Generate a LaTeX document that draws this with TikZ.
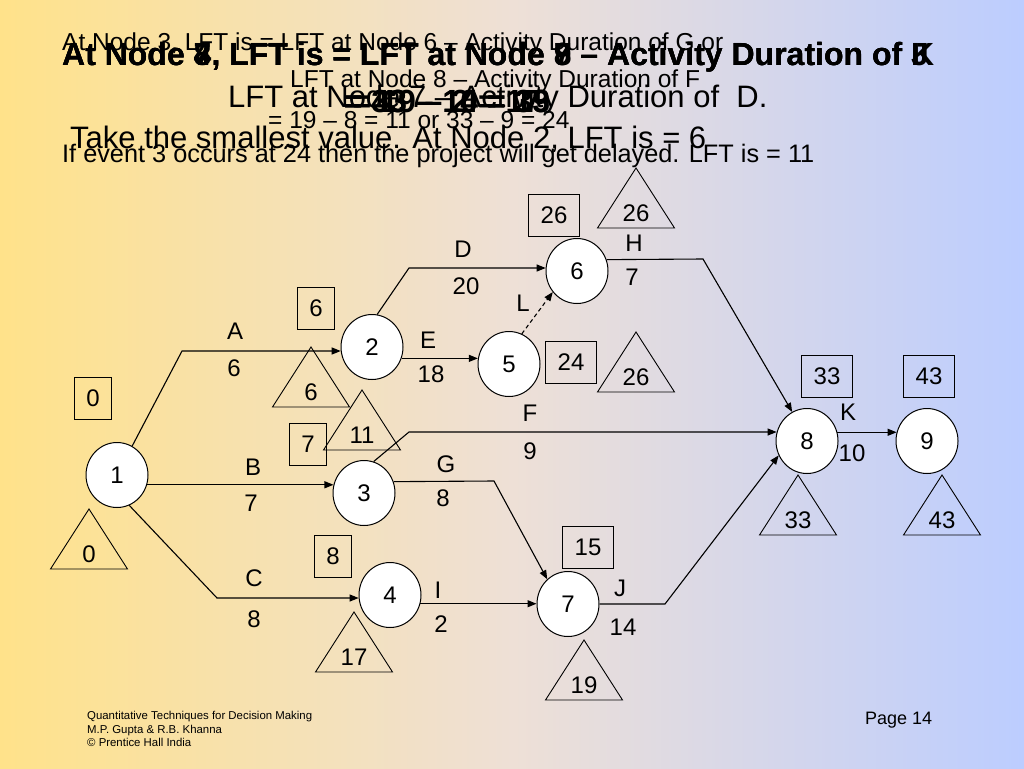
\documentclass[tikz,border=0pt]{standalone}
\usepackage{fontspec}
\setmainfont{Liberation Sans}
\usetikzlibrary{arrows.meta,shapes.geometric}
\definecolor{bgL}{RGB}{255,226,138}
\definecolor{bgM}{RGB}{238,224,214}
\definecolor{bgR}{RGB}{188,205,255}
\newcommand{\fsz}[1]{\fontsize{#1pt}{#1pt}\selectfont}
\begin{document}
\begin{tikzpicture}[x=1pt,y=-1pt,
  ev/.style={draw, line width=1pt, fill=white, ellipse, minimum width=62pt, minimum height=65pt, inner sep=0pt, font=\fsz{24}},
  estbox/.style={draw, line width=0.9pt, minimum height=42pt, minimum width=36pt, inner xsep=12pt, inner ysep=0pt, font=\fsz{24}},
  lbl/.style={inner sep=0pt, font=\fsz{24}},
  arr/.style={line width=1.1pt, -{Triangle[length=9pt,width=7pt]}},
  dep/.style={arr, dash pattern=on 4pt off 3pt},
  ttl/.style={inner sep=0pt, anchor=base west},
  ttlc/.style={inner sep=0pt, anchor=base},
  lftri/.pic={\draw[line width=0.9pt] (0,-30) -- (38.5,30) -- (-38.5,30) -- cycle; \node[lbl] (-v) at (0,15) {#1};}
]
\shade[left color=bgL, right color=bgR, middle color=bgM] (0,0) rectangle (1024,768);
\useasboundingbox (0,0) rectangle (1024,768);

% ---- overlapping titles ----
\node[ttl, font=\fsz{24.5}] (b1) at (62,50) {At Node 3, LFT is = LFT at Node 6 – Activity Duration of G or};
\node[ttl, font=\fsz{24.5}] (b2) at (290,87) {LFT at Node 8 – Activity Duration of F};
\node[ttl, font=\fsz{24.5}] (b3) at (268,128) {= 19 – 8 = 11 or 33 – 9 = 24};
\node[ttl, font=\fsz{25.3}] (b4) at (62,162) {If event 3 occurs at 24 then the project will get delayed. LFT is = 11};
\node[ttl, font=\fsz{31}] (c2) at (228,107) {LFT at Node 7 – Activity Duration of \ D.};
\node[ttl, font=\fsz{31}] (c4) at (70,148) {Take the smallest value. At Node 2, LFT is = 6};
\node[ttl, font=\fsz{32}\bfseries] (a1t) at (62,66) {At Node 8, LFT is = LFT at Node 9 – Activity Duration of K};
\node[ttl, font=\fsz{32}\bfseries] (a2t) at (62,66) {At Node 7, LFT is = LFT at Node 8 – Activity Duration of J};
\node[ttl, font=\fsz{32}\bfseries] (a3t) at (62,66) {At Node 4, LFT is = LFT at Node 7 – Activity Duration of I};
\node[ttlc, font=\fsz{32}\bfseries] (a1b) at (447,112) {= 43 – 10 = 33};
\node[ttlc, font=\fsz{32}\bfseries] (a2b) at (447,112) {= 33 – 14 = 19};
\node[ttlc, font=\fsz{32}\bfseries] (a3b) at (447,112) {= 19 – 2 = 17};

% ---- events ----
\node[ev] (n1) at (117,475) {1};
\node[ev] (n2) at (372,347) {2};
\node[ev] (n3) at (364,493) {3};
\node[ev] (n4) at (390,595) {4};
\node[ev] (n5) at (509,364) {5};
\node[ev] (n6) at (577,271) {6};
\node[ev] (n7) at (568,604) {7};
\node[ev] (n8) at (807,441) {8};
\node[ev] (n9) at (927,441) {9};

% ---- EST boxes ----
\node[estbox] (e1) at (93,398) {0};
\node[estbox] (e2) at (316,308) {6};
\node[estbox] (e3) at (308,444) {7};
\node[estbox] (e4) at (333,556) {8};
\node[estbox] (e5) at (571,362) {24};
\node[estbox] (e6) at (554,215) {26};
\node[estbox] (e7) at (588,547) {15};
\node[estbox] (e8) at (827,376) {33};
\node[estbox] (e9) at (929,376) {43};

% ---- LFT triangles ----
\pic (l1) at (89,539) {lftri=0};
\pic (l2) at (311,377) {lftri=6};
\pic (l3) at (362,420) {lftri=11};
\pic (l4) at (354,642) {lftri=17};
\pic (l5) at (636,362) {lftri=26};
\pic (l6) at (636,198) {lftri=26};
\pic (l7) at (584,670) {lftri=19};
\pic (l8) at (798,505) {lftri=33};
\pic (l9) at (942,505) {lftri=43};

% ---- activities ----
\coordinate (ca) at (182,351);
\coordinate (cc) at (217,598);
\coordinate (cd) at (409,268);
\coordinate (cf) at (409,432);
\coordinate (cg) at (494,481);
\coordinate (ch) at (703,259);
\coordinate (cj) at (665,604);

\draw[arr] (n1) -- (ca) -- (ca -| n2.187);
\draw[arr] (n1.342) -- (n1.342 -| n3.165);
\draw[arr] (n1.292) -- (cc) -- (cc -| n4.185);
\draw[arr] (n2.81) -- (cd) -- (cd -| n6.174);
\draw[arr] (n2.339) -- (n2.339 -| n5.171);
\draw[dep] (n5.67) -- (n6.221);
\draw[arr] (n3.73) -- (cf) -- (cf -| n8.164);
\draw[arr] (n3.21) -- (cg) -- (n7.130);
\draw[arr] (n6.21) -- (ch) -- (n8.117);
\draw[arr] (n4.344) -- (n4.344 -| n7.west);
\draw[arr] (n7.east) -- (cj) -- (n8.207);
\draw[arr] (n8.16) -- (n8.16 -| n9.164);

% ---- activity labels ----
\node[lbl] (tA) at (235,331) {A};
\node[lbl] (dA) at (234,368) {6};
\node[lbl] (tB) at (253,467) {B};
\node[lbl] (dB) at (251,503) {7};
\node[lbl] (tC) at (254,578) {C};
\node[lbl] (dC) at (254,619) {8};
\node[lbl] (tD) at (463,249) {D};
\node[lbl] (dD) at (466,286) {20};
\node[lbl] (tE) at (428,340) {E};
\node[lbl] (dE) at (431,374) {18};
\node[lbl] (tL) at (523,303) {L};
\node[lbl] (tF) at (530,413) {F};
\node[lbl] (dF) at (530,451) {9};
\node[lbl] (tG) at (446,464) {G};
\node[lbl] (dG) at (443,498) {8};
\node[lbl] (tH) at (634,243) {H};
\node[lbl] (dH) at (632,277) {7};
\node[lbl] (tI) at (438,590) {I};
\node[lbl] (dI) at (441,624) {2};
\node[lbl] (tJ) at (620,588) {J};
\node[lbl] (dJ) at (623,627) {14};
\node[lbl] (tK) at (848,412) {K};
\node[lbl] (dK) at (852,453) {10};

% ---- footer ----
\node[ttl, font=\fsz{11.4}] (ft1) at (87,719) {Quantitative Techniques for Decision Making};
\node[ttl, font=\fsz{11.4}] (ft2) at (87,733) {M.P. Gupta \& R.B. Khanna};
\node[ttl, font=\fsz{11.4}] (ft3) at (87,746) {© Prentice Hall India};
\node[ttl, font=\fsz{18}] (pg) at (865,724) {Page 14};
\end{tikzpicture}
\end{document}
